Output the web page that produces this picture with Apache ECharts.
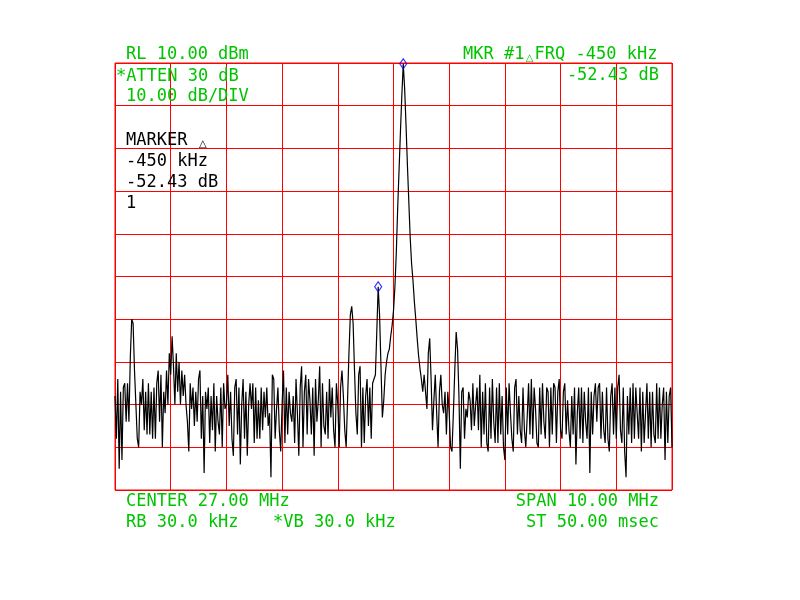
<!DOCTYPE html>
<html>
<head>
<meta charset="utf-8">
<script src="https://cdn.jsdelivr.net/npm/echarts@6/dist/echarts.min.js"></script>
<style>html,body{margin:0;padding:0;background:#fff}#c{width:800px;height:600px}</style>
</head>
<body>
<div id="c"></div>
<script>
// Sweep: 22.00 MHz .. 32.00 MHz, 401 points (center 27.00 MHz, span 10.00 MHz)
const sweepStartMHz = 22;
const sweepStopMHz = 32;
const sweepStepMHz = 0.025;
const refLevel = 10;      // dBm
const bottomLevel = -90;  // dBm
const levelTicks = [10, 0, -10, -20, -30, -40, -50, -60, -70, -80, -90];

const traceLevels = [
 -68,-78,-64,-85,-67,-83,-66,-65,-74,-65,-74,-59,-50,-51,-62,-70,-78,-80,-67,-70,
 -64,-76,-67,-77,-65,-77,-67,-78,-66,-78,-65,-62,-74,-63,-80,-67,-72,-62,-70,-58,
 -63,-54,-61,-70,-58,-67,-60,-70,-62,-68,-63,-70,-74,-81,-65,-71,-66,-75,-67,-74,
 -64,-62,-78,-68,-86,-67,-71,-66,-79,-68,-76,-65,-81,-68,-74,-77,-66,-80,-65,-71,
 -70,-63,-75,-67,-78,-82,-66,-64,-77,-66,-84,-70,-64,-78,-67,-82,-70,-65,-71,-65,
 -79,-66,-78,-69,-78,-66,-76,-67,-73,-66,-75,-72,-87,-63,-64,-78,-71,-66,-76,-81,
 -70,-62,-79,-66,-77,-67,-72,-74,-68,-79,-64,-72,-82,-66,-61,-80,-67,-63,-77,-64,
 -69,-77,-66,-82,-64,-74,-69,-61,-80,-65,-75,-77,-67,-78,-64,-73,-66,-76,-80,-65,
 -70,-80,-66,-62,-68,-76,-80,-69,-58,-49,-47,-51,-62,-72,-77,-63,-61,-80,-66,-79,
 -68,-64,-75,-66,-78,-65,-64,-63,-53,-42.4,-49,-61,-73,-69,-63,-60,-58,-57,-54,-51.5,
 -48,-42.5,-34.5,-24,-15,-6,2.5,9.8,4,-4.6,-14,-22.5,-31,-37,-41,-46,-50,-54.5,-58.5,-61.5,
 -64,-67,-63,-67,-71,-58,-54.5,-64,-76,-69,-63,-72,-80,-67,-63,-70,-72,-67,-77,-67,
 -72,-80,-81,-72,-62,-53,-57,-68,-85,-67,-66,-78,-71,-73,-67,-69,-76,-65,-75,-70,
 -66,-76,-63,-80,-67,-77,-65,-79,-81,-66,-78,-64,-74,-79,-66,-79,-65,-77,-68,-80,
 -83,-66,-77,-65,-72,-78,-81,-66,-64,-77,-68,-76,-79,-66,-76,-80,-73,-65,-77,-64,
 -78,-66,-71,-79,-80,-66,-77,-65,-74,-78,-66,-67,-80,-66,-77,-65,-66,-79,-67,-64,
 -76,-78,-67,-65,-77,-69,-76,-80,-68,-77,-66,-84,-72,-66,-78,-66,-79,-67,-74,-78,
 -66,-86,-67,-77,-68,-65,-74,-66,-65,-78,-67,-76,-79,-66,-78,-81,-68,-65,-77,-66,
 -78,-66,-63,-76,-79,-66,-81,-87,-68,-77,-66,-79,-65,-78,-66,-72,-78,-66,-81,-67,
 -79,-72,-65,-78,-67,-80,-67,-77,-79,-65,-78,-66,-78,-70,-66,-83,-67,-79,-68,-66,
 -80
];

// Marker positions (trace point indices): main peak and delta marker #1
const markerIndices = [207, 189];

// Annotation texts
const textTopLeft = ['RL 10.00 dBm', '*ATTEN 30 dB', '10.00 dB/DIV'];
const textMarker = ['-450 kHz', '-52.43 dB', '1'];
const textTopRight = ['-52.43 dB'];
const textBottomLeft = ['CENTER 27.00 MHz', 'RB 30.0 kHz', '*VB 30.0 kHz'];
const textBottomRight = ['SPAN 10.00 MHz', 'ST 50.00 msec'];

const GREEN = '#00c400';
const RED = '#ff0000';
const FONT = '17px "DejaVu Sans Mono", "Liberation Mono", monospace';

const tracePoints = traceLevels.map((v, i) => [sweepStartMHz + i * sweepStepMHz, v]);
const markerPoints = markerIndices.map(i => tracePoints[i]);

function txt(x, y, text, color, align) {
  return {
    type: 'text', x: x, y: y, z: 100,
    style: { text: text, font: FONT, fill: color, align: align || 'left', verticalAlign: 'middle' }
  };
}
function richTxt(x, y, text, color, align) {
  return {
    type: 'text', x: x, y: y, z: 100,
    style: {
      text: text, font: FONT, fill: color, align: align || 'left', verticalAlign: 'middle',
      rich: { t: { font: '10px "DejaVu Sans", sans-serif', fill: color, width: 10.2, align: 'center', verticalAlign: 'bottom' } }
    }
  };
}

const chart = echarts.init(document.getElementById('c'), null, { renderer: 'canvas' });
chart.setOption({
  animation: false,
  backgroundColor: '#ffffff',
  grid: { left: 115, top: 63, width: 557, height: 427, show: true, borderColor: RED, borderWidth: 1, containLabel: false },
  xAxis: {
    type: 'value', min: sweepStartMHz, max: sweepStopMHz, interval: 1,
    axisLine: { show: false }, axisTick: { show: false }, axisLabel: { show: false },
    splitLine: { show: true, lineStyle: { color: RED, width: 1 } }
  },
  yAxis: {
    type: 'value', min: bottomLevel, max: refLevel, interval: levelTicks[0] - levelTicks[1],
    axisLine: { show: false }, axisTick: { show: false }, axisLabel: { show: false },
    splitLine: { show: true, lineStyle: { color: RED, width: 1 } }
  },
  series: [
    {
      type: 'line', data: tracePoints, showSymbol: false, symbol: 'none',
      lineStyle: { color: '#000000', width: 1.2 }, clip: true, z: 5
    },
    {
      type: 'scatter', data: markerPoints, symbol: 'diamond', symbolSize: [7, 10],
      itemStyle: { color: 'rgba(255,255,255,0)', borderColor: '#0000ff', borderWidth: 1.2 },
      clip: false, z: 10
    }
  ],
  graphic: [
    txt(126, 55, textTopLeft[0], GREEN),
    txt(116, 77, textTopLeft[1], GREEN),
    txt(126, 97, textTopLeft[2], GREEN),
    richTxt(126, 141, 'MARKER {t|△}', '#000000'),
    txt(126, 162, textMarker[0], '#000000'),
    txt(126, 183, textMarker[1], '#000000'),
    txt(126, 204, textMarker[2], '#000000'),
    richTxt(463, 55, 'MKR #1{t|△}FRQ -450 kHz', GREEN),
    txt(659, 76, textTopRight[0], GREEN, 'right'),
    txt(126, 502, textBottomLeft[0], GREEN),
    txt(126, 523, textBottomLeft[1], GREEN),
    txt(273, 523, textBottomLeft[2], GREEN),
    txt(659, 502, textBottomRight[0], GREEN, 'right'),
    txt(659, 523, textBottomRight[1], GREEN, 'right')
  ]
});
</script>
</body>
</html>
